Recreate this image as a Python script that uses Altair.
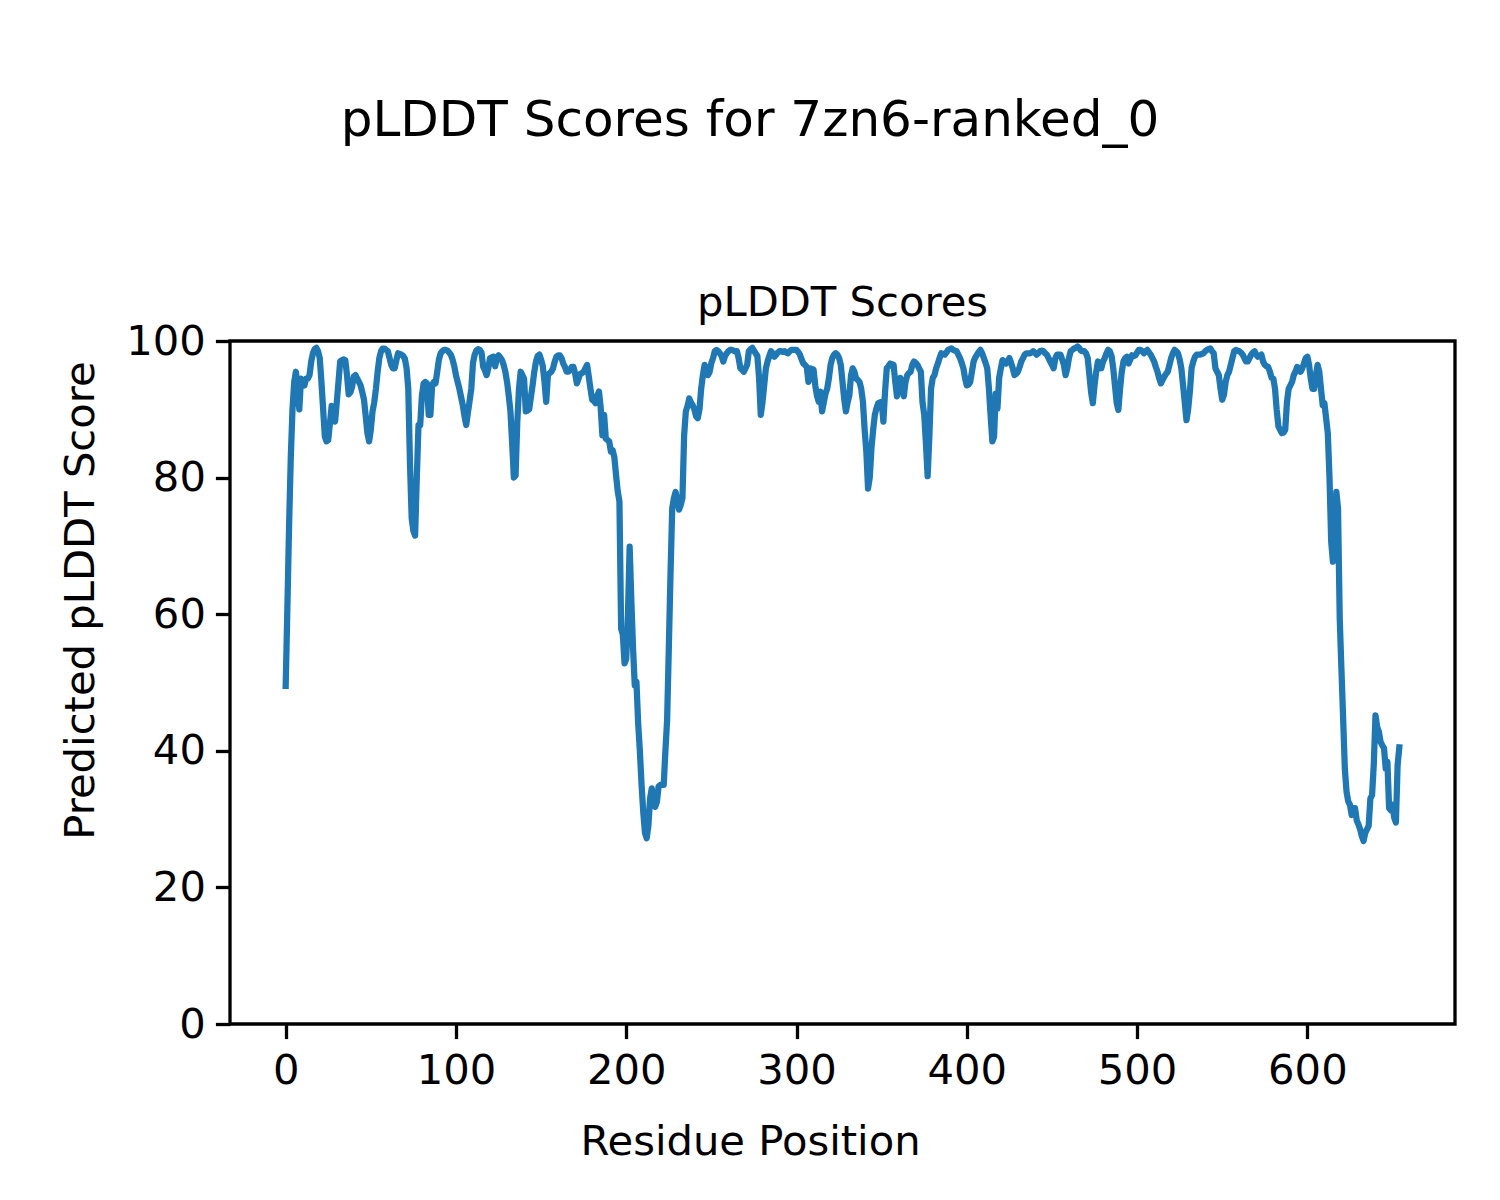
import altair as alt
import pandas as pd

# pLDDT score per residue
plddt = [
    49.5, 61, 73, 83, 90, 94, 95.5, 93, 90, 94.5,
    94, 93.5, 94.5, 94.5, 95, 97, 98.2, 98.8, 99, 98.5,
    97.5, 94, 90, 86, 85.3, 85.5, 88, 90.5, 89.5, 88.2,
    91, 94, 97, 97.2, 97.3, 97.2, 95, 92.2, 92.5, 93.3,
    94.8, 95, 94.5, 94, 93.5, 92.5, 91.4, 89, 86.5, 85.3,
    87, 89.7, 91, 93, 95.5, 97.5, 98.5, 98.9, 98.9, 98.7,
    98.5, 97.5, 96.5, 96, 96, 97.2, 98.2, 98.1, 98, 97.8,
    97.4, 96, 93, 82, 74, 72.2, 71.5, 80, 87.7, 87.7,
    92, 93.8, 94, 93.8, 89.2, 89.2, 93.5, 94, 93.8, 95.5,
    97.3, 98.2, 98.5, 98.7, 98.7, 98.6, 98.3, 98, 97.3, 96.3,
    95, 94, 93, 91.8, 90.6, 89, 87.7, 89.5, 91.2, 93,
    96.8, 98, 98.6, 98.8, 98.7, 98.3, 96.2, 95.7, 95, 96,
    97.5, 97.6, 97.7, 96.3, 97.5, 97.9, 97.6, 97.2, 96.5, 95.5,
    94, 92, 89.7, 85, 80, 80.3, 88, 93, 95.5, 95,
    94.5, 89.7, 89.8, 90, 91.8, 93.5, 95.5, 97, 97.8, 98,
    97.3, 96.3, 94, 91.1, 95, 95.3, 95.5, 96, 97, 97.7,
    97.9, 97.9, 97.5, 96.7, 96.2, 95.5, 95.5, 95.8, 96.2, 96.2,
    95.2, 93.8, 94.5, 95.2, 95.3, 95.5, 96, 96.5, 94.8, 93,
    91.4, 91.2, 90.9, 92, 92.6, 90.2, 86.2, 89.2, 85.7, 85.5,
    85.3, 83.8, 84, 83, 80.4, 78, 76.5, 57.9, 57, 52.8,
    53.5, 60, 69.9, 62, 55, 49.6, 50.1, 44, 40, 35,
    31, 28, 27.2, 29, 33, 34.5, 32, 31.8, 32.5, 34.8,
    35, 35, 35, 40, 44.5, 55, 66, 75.5, 77, 77.9,
    76.5, 75.3, 76, 77, 86.2, 89.7, 90.5, 91.6, 91, 90.6,
    90, 89, 88.7, 90, 93, 95, 96.5, 96, 95, 95.5,
    96.8, 97.5, 98.5, 98.7, 98.5, 98.2, 97.8, 97, 97.8, 98.2,
    98.5, 98.7, 98.7, 98.6, 98.5, 98.5, 97.5, 96, 95.8, 95.5,
    96, 96.5, 98.5, 98.8, 99, 98.6, 98.2, 97.8, 94.6, 89.2,
    91, 93.5, 96, 97, 97.8, 98.5, 98.2, 97.7, 98, 98.3,
    98.5, 98.5, 98.4, 98.5, 98.3, 98.2, 98.5, 98.7, 98.7, 98.7,
    98.7, 98.4, 98, 97.3, 96.7, 96.5, 96.2, 94, 96, 95.9,
    95.8, 93.5, 92, 91.1, 92.6, 89.7, 91, 92.3, 93, 94.5,
    96.5, 97.5, 98, 98.2, 98, 97.5, 96.5, 94, 91.5, 89.7,
    91, 92, 95, 96, 95.5, 94.5, 94.3, 94, 93, 91.1,
    87, 83.8, 78.4, 80, 84.3, 87, 89.2, 90.2, 90.9, 91,
    91.1, 88.2, 92.6, 96, 96.3, 96.7, 96.6, 96.5, 94, 91.9,
    93.5, 94.6, 93, 91.9, 94, 95, 95.3, 95.5, 96.5, 97,
    96.8, 96.5, 96, 95.5, 91, 89.2, 85, 80.2, 86, 93,
    94.6, 95, 96, 96.7, 97.5, 98.2, 98.1, 98, 98.3, 98.7,
    98.8, 98.9, 98.7, 98.6, 98.5, 98, 97.5, 96.8, 96, 94.5,
    93.5, 93.6, 94, 95.5, 97, 97.6, 98, 98.4, 98.7, 98.2,
    97.5, 96.8, 96, 93, 89, 85.3, 86, 92.3, 90.1, 94.6,
    96, 97.2, 97, 96.7, 97, 97.5, 96.8, 96, 95, 95.2,
    95.5, 96.2, 97, 97.5, 98, 98.2, 98.2, 98.2, 98.3, 98.5,
    98.3, 98, 98.2, 98.5, 98.6, 98.5, 98.2, 98, 97.5, 97,
    96.5, 96, 97.5, 98, 98, 98, 97.3, 96.5, 95, 96,
    97.5, 98.5, 98.7, 98.9, 99, 99.2, 99, 98.6, 98.5, 98.5,
    98.2, 97.5, 95, 92.5, 90.9, 93.5, 95.5, 97, 96.5, 96,
    97, 97.5, 98.2, 98.7, 98.5, 97.8, 96, 93.5, 91, 89.9,
    93, 95.5, 97, 97.5, 97.7, 96.7, 97.3, 97.9, 97.8, 97.9,
    98.3, 98.7, 98.7, 98.5, 98.2, 98.5, 98.7, 98.3, 98, 97.5,
    97, 96.2, 95.5, 94.5, 93.8, 94.3, 94.8, 95.2, 95.5, 96.5,
    97.5, 98.2, 98.7, 98.5, 98.2, 97.3, 96, 93.5, 91, 88.4,
    90, 92.6, 96, 97, 97.7, 98, 98, 98, 98.1, 98.2,
    98.5, 98.7, 98.8, 98.9, 98.5, 98.2, 96, 95.5, 95, 93,
    91.4, 92.1, 94, 95, 95.5, 96.5, 97.5, 98.5, 98.7, 98.6,
    98.5, 98.3, 98, 97.5, 97, 97, 97.5, 98, 98.3, 98.5,
    98, 97.7, 97.8, 98, 97, 96.5, 96.3, 96.2, 95.5, 94.6,
    94.5, 93, 89.9, 87.5, 87, 86.5, 86.6, 87, 91, 93,
    93.5, 94, 95, 95.5, 96.2, 96, 95.5, 96, 96.7, 97.5,
    97.7, 96.5, 94.5, 93, 93, 95, 96.5, 95.5, 93, 90.6,
    90.9, 88.7, 86.5, 80, 70.6, 67.7, 72, 77.9, 75.5, 59.4,
    52, 44.8, 37.4, 34, 32.6, 32.1, 30.6, 31.6, 31.6, 29.8,
    29.2, 28.5, 27.5, 26.8, 28, 28.5, 29, 33, 33.5, 38,
    45.2, 43.5, 42.8, 41.3, 40.8, 40.4, 37.4, 38.4, 31.6, 31.3,
    32.1, 30.2, 29.5, 37.9, 40.5,
]
residue = list(range(len(plddt)))

suptitle = "pLDDT Scores for 7zn6-ranked_0"
axes_title = "pLDDT Scores"
x_label = "Residue Position"
y_label = "Predicted pLDDT Score"
x_ticks = [0, 100, 200, 300, 400, 500, 600]
y_ticks = [0, 20, 40, 60, 80, 100]

df = pd.DataFrame({"residue": residue, "plddt": plddt})

FONT = "DejaVu Sans"
W, H = 1225, 683
FS = 41.7

line = alt.Chart(df).mark_line(
    color="#1f77b4", strokeWidth=6.25, strokeJoin="round", strokeCap="square"
).encode(
    x=alt.X(
        "residue:Q",
        scale=alt.Scale(domain=[-32.7, 686.7], nice=False, zero=False),
        axis=alt.Axis(
            values=x_ticks, title=x_label, format="d",
            titleX=520, titleY=130, titleBaseline="alphabetic",
            labelPadding=12,
        ),
    ),
    y=alt.Y(
        "plddt:Q",
        scale=alt.Scale(domain=[0, 100], nice=False, zero=False),
        axis=alt.Axis(
            values=y_ticks, title=y_label, format="d",
            titleX=-137, titleY=259, titleAngle=-90, titleBaseline="alphabetic",
            titleAlign="center", labelPadding=10,
        ),
    ),
)

titles = pd.DataFrame({"t": [suptitle]})
sup = alt.Chart(titles).mark_text(
    font=FONT, fontSize=50, align="center", baseline="alphabetic", color="black"
).encode(x=alt.value(520), y=alt.value(-205), text="t:N")

sub = alt.Chart(pd.DataFrame({"t": [axes_title]})).mark_text(
    font=FONT, fontSize=FS, align="center", baseline="alphabetic", color="black"
).encode(x=alt.value(W / 2), y=alt.value(-25), text="t:N")

chart = alt.layer(line, sup, sub).properties(
    width=W,
    height=H,
    autosize=alt.AutoSizeParams(type="none"),
    padding={"left": 222, "top": 333, "right": 30, "bottom": 160},
    background="white",
).configure_view(
    stroke="black", strokeWidth=3.3
).configure_axis(
    domain=False, grid=False,
    ticks=True, tickColor="black", tickWidth=3.3, tickSize=14.6,
    labelFont=FONT, labelFontSize=FS, labelColor="black",
    titleFont=FONT, titleFontSize=FS, titleFontWeight="normal", titleColor="black",
)

chart.save("out.html", embed_options={"renderer": "svg", "actions": False})
